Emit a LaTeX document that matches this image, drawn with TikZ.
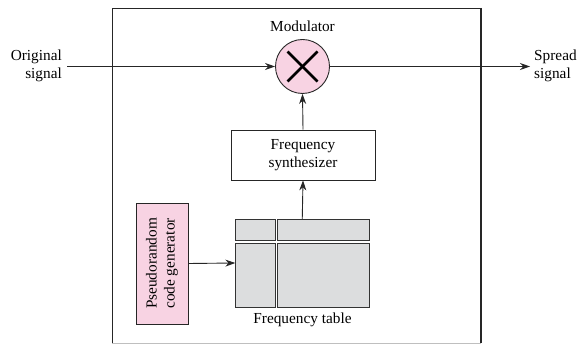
\documentclass[tikz,border=0pt]{standalone}
\usepackage{fontspec}
\setmainfont{Liberation Serif}
\usetikzlibrary{arrows.meta,calc}
\definecolor{pinkf}{HTML}{F8D3E3}
\definecolor{grayf}{HTML}{DCDDDE}
\begin{document}
\begin{tikzpicture}[x=1pt,y=-1pt,
  lbl/.style={font=\fontsize{15.3}{18}\selectfont, inner sep=0pt, align=center},
  con/.style={draw=black!85, line width=0.9pt, -{Stealth[length=10pt,width=7pt]}},
  boxs/.style={draw=black!85, line width=0.9pt},
  cell/.style={draw=black!80, line width=0.8pt, fill=grayf}]
\useasboundingbox (0,0) rectangle (577,344);
% outer frame
\draw[black!85, line width=0.9pt] (112,343) -- (112,8) -- (481,8);
\draw[black!85, line width=1.6pt] (481,8) -- (481,343);
\draw[black!25, line width=0.6pt] (112,343) -- (481,343);
% modulator
\node[circle, draw=black!85, line width=0.9pt, fill=pinkf, minimum size=54pt, inner sep=0pt] (mod) at (302.5,66.5) {};
\draw[line width=2.8pt] ($(mod.center)+(-15,-15)$) -- ($(mod.center)+(15,15)$);
\draw[line width=2.8pt] ($(mod.center)+(-15,15)$) -- ($(mod.center)+(15,-15)$);
\node[lbl] (modl) at (302.5,26) {Modulator};
% signals
\node[lbl, align=right, anchor=east] (orig) at (62,66) {Original\\signal};
\node[lbl, align=left, anchor=west] (spread) at (534,66) {Spread\\signal};
\coordinate (inS) at (67,66.5);
\coordinate (outE) at (530,66.5);
\draw[con] (inS) -- (mod.west);
\draw[con] (mod.east) -- (outE);
% synthesizer
\node[boxs, minimum width=144pt, minimum height=50pt, lbl, fill=white] (syn) at (303,155) {Frequency\\synthesizer};
\draw[con] (syn.north) -- (mod.south);
% frequency table
\draw[cell] (235.5,219) rectangle (275.3,240.3);
\draw[cell] (277.5,219) rectangle (369,240.3);
\draw[cell] (235.5,243.6) rectangle (275.3,307);
\draw[cell] (277.5,243.6) rectangle (369,307);
\node[inner sep=0pt, minimum width=133.5pt, minimum height=88pt] (tab) at (302.25,263) {};
\node[lbl] (tabl) at (302.5,320) {Frequency table};
\draw[con] (tab.north) -- (syn.south);
% pseudorandom
\node[boxs, fill=pinkf, minimum width=52pt, minimum height=121pt, inner sep=0pt] (prn) at (162,263.5) {};
\node[lbl, rotate=90] (prnl) at (prn.center) {Pseudorandom\\code generator};
\draw[con] (prn.east) -- (tab.west);
\end{tikzpicture}
\end{document}
